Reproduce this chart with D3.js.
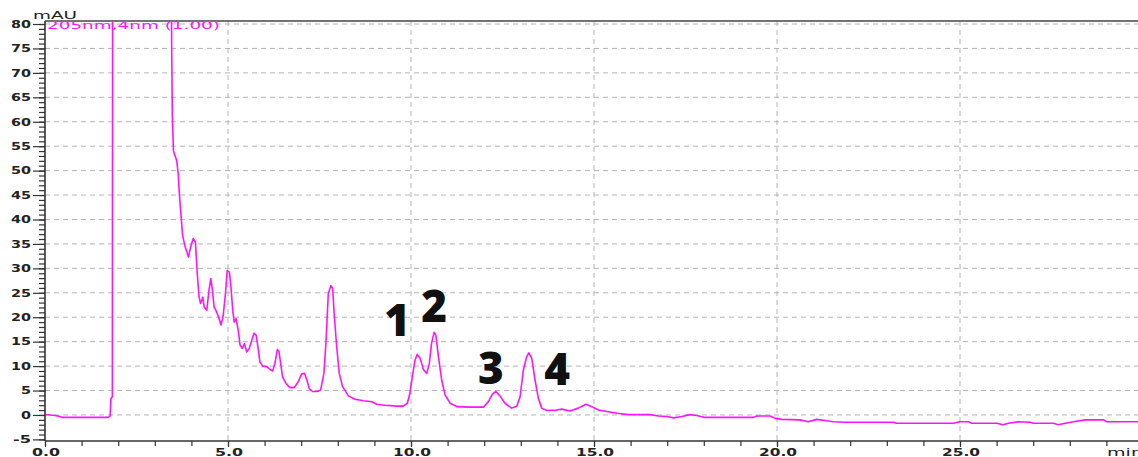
<!DOCTYPE html>
<html>
<head>
<meta charset="utf-8">
<script src="https://cdn.jsdelivr.net/npm/d3@7"></script>
<style>
  html, body { margin: 0; padding: 0; background: #fff; }
  svg { display: block; }
</style>
</head>
<body>
<svg id="chart" width="1138" height="457"></svg>
<script>
// Retention time (min) and detector response (mAU); values above 80 run off scale
const times = [
  0.00, 0.27, 0.41, 0.46, 1.73, 1.78, 1.80, 1.84, 1.85, 3.44,
  3.46, 3.48, 3.51, 3.60, 3.64, 3.67, 3.72, 3.76, 3.83, 3.92,
  3.98, 4.05, 4.11, 4.16, 4.21, 4.25, 4.31, 4.35, 4.42, 4.48,
  4.53, 4.57, 4.62, 4.67, 4.74, 4.81, 4.87, 4.93, 4.98, 5.04,
  5.08, 5.13, 5.17, 5.22, 5.28, 5.33, 5.39, 5.45, 5.51, 5.58,
  5.65, 5.71, 5.77, 5.83, 5.87, 5.95, 6.06, 6.15, 6.22, 6.28,
  6.35, 6.39, 6.44, 6.49, 6.58, 6.69, 6.81, 6.92, 7.01, 7.09,
  7.15, 7.22, 7.31, 7.44, 7.53, 7.62, 7.68, 7.74, 7.81, 7.86,
  7.90, 7.97, 8.04, 8.13, 8.29, 8.47, 8.70, 8.93, 9.06, 9.29,
  9.61, 9.79, 9.90, 9.97, 10.05, 10.11, 10.17, 10.25, 10.34, 10.43,
  10.50, 10.56, 10.63, 10.68, 10.75, 10.84, 10.93, 11.07, 11.25, 11.61,
  11.98, 12.11, 12.23, 12.32, 12.43, 12.57, 12.75, 12.89, 12.98, 13.07,
  13.16, 13.22, 13.30, 13.39, 13.48, 13.57, 13.71, 13.98, 14.12, 14.34,
  14.57, 14.78, 14.94, 15.12, 15.35, 15.62, 15.94, 16.53, 16.76, 16.99,
  17.17, 17.40, 17.62, 17.80, 18.03, 19.35, 19.45, 19.81, 19.95, 20.13,
  20.63, 20.86, 21.08, 21.36, 21.54, 21.81, 23.18, 23.27, 24.82, 25.00,
  25.23, 25.32, 26.00, 26.18, 26.32, 26.59, 26.91, 27.00, 27.55, 27.69,
  27.87, 28.10, 28.42, 28.92, 29.01, 29.90
];
const signal = [
  0.1, -0.1, -0.3, -0.5, -0.5, -0.2, 3.4, 3.7, 120, 120,
  76, 61, 54, 52, 49.3, 45.3, 40.5, 36.7, 34.4, 32.3,
  34.4, 36.1, 35.4, 28.9, 24.1, 22.8, 24.1, 22.1, 21.4, 25.5,
  27.9, 25.8, 22.1, 21.4, 20.1, 18.4, 20.4, 24.8, 29.6, 29.2,
  26.2, 21.4, 19.0, 19.7, 17.3, 14.3, 13.6, 14.6, 12.9, 13.6,
  15.3, 16.7, 16.3, 13.3, 10.9, 10.0, 9.9, 9.3, 9.0, 10.5,
  13.4, 13.1, 10.5, 7.8, 6.5, 5.6, 5.6, 6.8, 8.4, 8.5,
  7.3, 5.4, 4.8, 4.8, 5.1, 8.5, 15.3, 24.8, 26.5, 25.9,
  20.8, 13.9, 8.5, 5.8, 3.9, 3.2, 2.9, 2.7, 2.2, 2.0,
  1.8, 1.8, 2.4, 4.4, 8.5, 11.2, 12.4, 11.6, 9.3, 8.5,
  10.5, 14.6, 16.9, 16.3, 11.9, 7.1, 4.1, 2.4, 1.7, 1.6,
  1.6, 2.7, 4.3, 4.8, 3.9, 2.4, 1.4, 1.8, 3.7, 9.2,
  11.9, 12.7, 11.6, 7.1, 3.4, 1.4, 0.9, 1.0, 1.2, 0.8,
  1.4, 2.2, 1.7, 1.0, 0.7, 0.35, 0.07, 0.07, -0.2, -0.3,
  -0.6, -0.3, 0.07, -0.1, -0.5, -0.5, -0.2, -0.2, -0.7, -0.9,
  -1.0, -1.4, -0.9, -1.2, -1.4, -1.5, -1.5, -1.7, -1.7, -1.4,
  -1.4, -1.7, -1.7, -2.0, -1.7, -1.4, -1.5, -1.7, -1.7, -2.0,
  -1.7, -1.4, -1.0, -1.0, -1.4, -1.4
];

// Axis ticks
const xMajorTicks = [0, 5, 10, 15, 20, 25];
const xTickLabels = ["0.0", "5.0", "10.0", "15.0", "20.0", "25.0"];
const xMinorTicks = d3.range(0, 30, 1);
const yMajorTicks = [-5, 0, 5, 10, 15, 20, 25, 30, 35, 40, 45, 50, 55, 60, 65, 70, 75, 80];
const yMinorTicks = d3.range(-5, 81, 1);
const yGridTicks = [0, 5, 10, 15, 20, 25, 30, 35, 40, 45, 50, 55, 60, 65, 70, 75, 80];
const xGridTicks = [5, 10, 15, 20, 25];

// Peak annotations: label, retention time, height of the label baseline (mAU)
const peakLabels = ["1", "2", "3", "4"];
const peakTimes = [9.62, 10.63, 12.18, 13.99];
const peakLabelLevels = [16.2, 19.1, 6.3, 6.1];

const svg = d3.select("#chart");
const plotLeft = 45, plotTop = 21, plotBottom = 441, plotRight = 1138;

const x = d3.scaleLinear().domain([0, 30]).range([plotLeft, plotLeft + 30 * 36.6]);
const y = d3.scaleLinear().domain([-5, 80]).range([439.4, 24]);

const tickFont = "DejaVu Sans, Verdana, sans-serif";
const charW = { ".": 8, "-": 8 };
const labelWidth = s => Array.from(s).reduce((w, c) => w + (charW[c] || 10), 0);

// Dashed grid
const grid = svg.append("g").attr("stroke", "#b4b4b4").attr("stroke-width", 1)
  .attr("stroke-dasharray", "5,4").attr("fill", "none");
grid.selectAll("line.h").data(yGridTicks).join("line").attr("class", "h")
  .attr("x1", plotLeft).attr("x2", plotRight)
  .attr("y1", d => y(d)).attr("y2", d => y(d));
grid.selectAll("line.v").data(xGridTicks).join("line").attr("class", "v")
  .attr("x1", d => x(d)).attr("x2", d => x(d))
  .attr("y1", plotTop).attr("y2", plotBottom);

// Chromatogram trace
svg.append("clipPath").attr("id", "plotClip")
  .append("rect").attr("x", plotLeft).attr("y", plotTop + 1)
  .attr("width", plotRight - plotLeft).attr("height", plotBottom - plotTop - 1);

const line = d3.line().x(d => x(d[0])).y(d => y(d[1]));
svg.append("path")
  .datum(d3.zip(times, signal))
  .attr("clip-path", "url(#plotClip)")
  .attr("fill", "none")
  .attr("stroke", "#ff14ff")
  .attr("stroke-width", 1.6)
  .attr("stroke-linejoin", "round")
  .attr("d", line);

// Top frame line
svg.append("line").attr("x1", plotLeft).attr("x2", plotRight).attr("y1", plotTop).attr("y2", plotTop)
  .attr("stroke", "#444").attr("stroke-width", 1.6);

// Y axis: minor and major ticks
const yMinorAxis = d3.axisLeft(y).tickValues(yMinorTicks).tickSize(6).tickFormat("");
const yMajorAxis = d3.axisLeft(y).tickValues(yMajorTicks).tickSize(12).tickFormat("");
[yMinorAxis, yMajorAxis].forEach(ax => {
  const g = svg.append("g").attr("transform", `translate(${plotLeft},0)`).call(ax);
  g.select(".domain").remove();
  g.selectAll(".tick line").attr("stroke", "#333").attr("stroke-width", 1.2);
});
svg.append("line").attr("x1", plotLeft).attr("x2", plotLeft).attr("y1", plotTop).attr("y2", plotBottom)
  .attr("stroke", "#333").attr("stroke-width", 1.6);

svg.append("g").selectAll("text").data(yMajorTicks).join("text")
  .attr("x", 31).attr("y", d => y(d) + 3.8)
  .attr("text-anchor", "end")
  .attr("font-family", tickFont).attr("font-weight", "bold").attr("font-size", 10)
  .attr("fill", "#222")
  .attr("textLength", d => labelWidth(String(d)))
  .attr("lengthAdjust", "spacingAndGlyphs")
  .text(d => String(d));

// X axis: minor and major ticks
const xMinorAxis = d3.axisBottom(x).tickValues(xMinorTicks).tickSize(5).tickFormat("");
const xMajorAxis = d3.axisBottom(x).tickValues(xMajorTicks).tickSize(6).tickFormat("");
[xMinorAxis, xMajorAxis].forEach(ax => {
  const g = svg.append("g").attr("transform", `translate(0,${plotBottom})`).call(ax);
  g.select(".domain").remove();
  g.selectAll(".tick line").attr("stroke", "#333").attr("stroke-width", 1.2);
});
svg.append("line").attr("x1", plotLeft).attr("x2", plotRight).attr("y1", plotBottom).attr("y2", plotBottom)
  .attr("stroke", "#333").attr("stroke-width", 1.6);

svg.append("g").selectAll("text").data(xMajorTicks).join("text")
  .attr("x", d => x(d) + 1).attr("y", 455.5)
  .attr("text-anchor", "middle")
  .attr("font-family", tickFont).attr("font-weight", "bold").attr("font-size", 10)
  .attr("fill", "#222")
  .attr("textLength", (d, i) => labelWidth(xTickLabels[i]))
  .attr("lengthAdjust", "spacingAndGlyphs")
  .text((d, i) => xTickLabels[i]);

svg.append("text").attr("x", 1107).attr("y", 455.5)
  .attr("font-family", tickFont).attr("font-size", 10).attr("fill", "#222")
  .attr("textLength", 36).attr("lengthAdjust", "spacingAndGlyphs")
  .text("min");

// Unit and channel captions
svg.append("text").attr("x", 33).attr("y", 19)
  .attr("font-family", tickFont).attr("font-size", 10).attr("fill", "#222")
  .attr("textLength", 44).attr("lengthAdjust", "spacingAndGlyphs")
  .text("mAU");
svg.append("text").attr("x", 47).attr("y", 28.5)
  .attr("font-family", tickFont).attr("font-size", 10).attr("fill", "#ff14ff")
  .attr("textLength", 173).attr("lengthAdjust", "spacingAndGlyphs")
  .text("205nm,4nm (1.00)");

// Peak numbers
svg.append("g").selectAll("text").data(peakLabels).join("text")
  .attr("x", (d, i) => x(peakTimes[i]))
  .attr("y", (d, i) => y(peakLabelLevels[i]))
  .attr("text-anchor", "middle")
  .attr("font-family", "Open Sans, Noto Sans, sans-serif")
  .attr("font-weight", 800).attr("font-size", 44)
  .attr("fill", "#111")
  .text(d => d);
</script>
</body>
</html>
